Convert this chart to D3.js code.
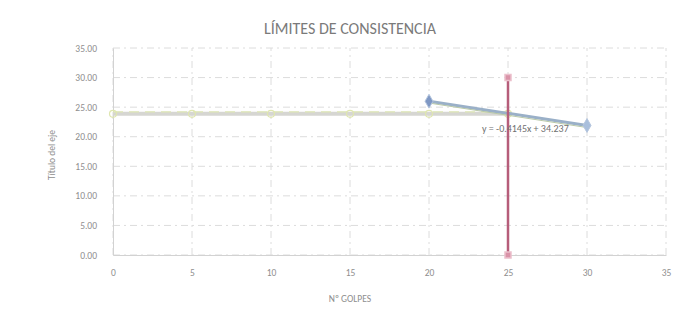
<!DOCTYPE html>
<html><head><meta charset="utf-8">
<script src="https://cdn.jsdelivr.net/npm/d3@7"></script>
<style>body{margin:0;background:#fff}svg{display:block}text{font-family:Calibri,Carlito,"Open Sans",sans-serif}</style>
</head><body><svg id="c" width="684" height="328"></svg>
<script>
const title = "LÍMITES DE CONSISTENCIA";
const xTitle = "Nº GOLPES";
const yTitle = "Título del eje";
const xTicks = [0,5,10,15,20,25,30,35];
const yTicks = [0,5,10,15,20,25,30,35];
const yTickLabels = ["0.00","5.00","10.00","15.00","20.00","25.00","30.00","35.00"];
const blowsX = [20,30];
const moistY = [26.0,21.9];
const llX = [0,5,10,15,20,25];
const llY = [23.87,23.87,23.87,23.87,23.87,23.87];
const vX = [25,25];
const vY = [0,30];
const trendSlope = -0.4145, trendInt = 34.237;
const trendLabel = "y = -0.4145x + 34.237";

const svg = d3.select("#c");
const x = d3.scaleLinear().domain([0,35]).range([113,666]);
const y = d3.scaleLinear().domain([0,35]).range([255,48]);

// gridlines
svg.append("g").selectAll("line").data(yTicks).join("line")
  .attr("x1",x(0)).attr("x2",x(35)).attr("y1",d=>y(d)).attr("y2",d=>y(d))
  .attr("stroke","#dcdcdc").attr("stroke-width",1).attr("stroke-dasharray","7,4,2,4");
svg.append("g").selectAll("line").data(xTicks).join("line")
  .attr("y1",y(0)).attr("y2",y(35)).attr("x1",d=>x(d)).attr("x2",d=>x(d))
  .attr("stroke","#dcdcdc").attr("stroke-width",1).attr("stroke-dasharray","7,4,2,4");

// axes
const xa = svg.append("g").attr("transform",`translate(0,${y(0)})`)
  .call(d3.axisBottom(x).tickValues(xTicks).tickSize(0).tickPadding(14));
const ya = svg.append("g").attr("transform",`translate(${x(0)},0)`)
  .call(d3.axisLeft(y).tickValues(yTicks).tickSize(0).tickPadding(16).tickFormat((d,i)=>yTickLabels[i]));
[xa,ya].forEach(a=>{a.select(".domain").attr("stroke","#d2d2d2");a.selectAll("text").attr("fill","#8e8e8e").attr("font-size",9.5);});

// horizontal LL line
const line = d3.line().x(d=>x(d[0])).y(d=>y(d[1]));
svg.append("path").datum(d3.zip(llX,llY)).attr("d",line)
  .attr("fill","none").attr("stroke","#d6d6d2").attr("stroke-width",4);
svg.append("path").datum(d3.zip(llX,llY)).attr("d",line)
  .attr("fill","none").attr("stroke","#dde6b4").attr("stroke-width",1.2).attr("stroke-dasharray","10,6").attr("transform","translate(0,-2)");
svg.append("g").selectAll("circle").data(d3.zip(llX,llY)).join("circle")
  .attr("cx",d=>x(d[0])).attr("cy",d=>y(d[1])).attr("r",3.5)
  .attr("fill","none").attr("stroke","#dfe6b0").attr("stroke-width",1.2);

// blue series
svg.append("path").datum(d3.zip(blowsX,moistY)).attr("d",line)
  .attr("fill","none").attr("stroke","#9ab0c8").attr("stroke-width",3);
// trendline
svg.append("path").datum([[20,trendSlope*20+trendInt],[30,trendSlope*30+trendInt]]).attr("d",line)
  .attr("fill","none").attr("stroke","#b9c9a8").attr("stroke-width",1).attr("transform","translate(0,1.5)");
svg.append("g").selectAll("path").data(d3.zip(blowsX,moistY)).join("path")
  .attr("transform",d=>`translate(${x(d[0])},${y(d[1])})`)
  .attr("d",d3.symbol(d3.symbolDiamond,55))
  .attr("fill",(d,i)=>i?"#a9bfdc":"#7f98c4").attr("stroke","#b5c6de").attr("stroke-width",1);

// vertical red line
svg.append("path").datum(d3.zip(vX,vY)).attr("d",line)
  .attr("fill","none").attr("stroke","#b65d7a").attr("stroke-width",2.5);
svg.append("g").selectAll("path").data(d3.zip(vX,vY)).join("path")
  .attr("transform",d=>`translate(${x(d[0])},${y(d[1])})`)
  .attr("d",d3.symbol(d3.symbolSquare,36))
  .attr("fill","#d993a8").attr("stroke","#ebc0cc").attr("stroke-width",1.5);

// trend label
svg.append("text").attr("x",x(26.1)).attr("y",y(20.8)).attr("text-anchor","middle")
  .attr("font-size",10).attr("fill","#707070").text(trendLabel);

// titles
svg.append("text").attr("x",350).attr("y",34).attr("text-anchor","middle")
  .attr("font-size",16).attr("fill","#7a7a7a").text(title);
svg.append("text").attr("x",350).attr("y",302).attr("text-anchor","middle")
  .attr("font-size",9.5).attr("fill","#8e8e8e").text(xTitle);
svg.append("text").attr("transform","translate(55,155) rotate(-90)").attr("text-anchor","middle")
  .attr("font-size",9.5).attr("fill","#8e8e8e").text(yTitle);
</script></body></html>
